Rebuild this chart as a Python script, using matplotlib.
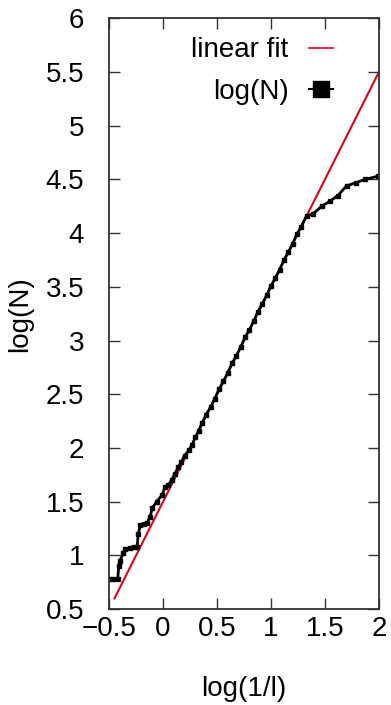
import matplotlib
matplotlib.use('Agg')
import matplotlib.pyplot as plt
from matplotlib.lines import Line2D

plt.rcParams['font.family'] = ['Liberation Sans', 'DejaVu Sans']

# box-counting data: log(1/l) vs log(N)
log_inv_l = [-0.50, -0.46, -0.42, -0.41, -0.40, -0.37, -0.35, -0.31, -0.27, -0.24,
             -0.23, -0.21, -0.18, -0.15, -0.12, -0.10, -0.06, -0.01, 0.02, 0.05,
             0.08, 0.11, 0.14, 0.17, 0.20, 0.24, 0.27, 0.30, 0.33, 0.36,
             0.40, 0.44, 0.48, 0.52, 0.56, 0.60, 0.64, 0.68, 0.72, 0.76,
             0.80, 0.84, 0.88, 0.92, 0.96, 1.00, 1.04, 1.08, 1.12, 1.16,
             1.20, 1.24, 1.28, 1.33, 1.39, 1.47, 1.55, 1.62, 1.70, 1.79,
             1.87, 1.99]
log_N = [0.78, 0.78, 0.78, 0.90, 0.95, 1.02, 1.06, 1.07, 1.08, 1.08,
         1.20, 1.28, 1.29, 1.30, 1.36, 1.44, 1.50, 1.56, 1.64, 1.66,
         1.70, 1.76, 1.82, 1.87, 1.93, 1.98, 2.03, 2.10, 2.16, 2.23,
         2.31, 2.38, 2.46, 2.55, 2.62, 2.70, 2.79, 2.86, 2.94, 3.03,
         3.10, 3.18, 3.27, 3.34, 3.42, 3.51, 3.58, 3.66, 3.75, 3.82,
         3.90, 3.99, 4.06, 4.16, 4.18, 4.25, 4.30, 4.35, 4.44, 4.47,
         4.50, 4.53]

fit_x = [-0.45, 2.0]
fit_y = [0.6, 5.5]

fig = plt.figure(figsize=(3.91, 7.05), dpi=100)
ax = fig.add_axes([0.279, 0.136, 0.69, 0.838])

ax.plot(fit_x, fit_y, color='#e3001b', lw=1.5)
ax.plot(log_inv_l, log_N, color='black', lw=2, marker='s', ms=2.5)

ax.set_xlim(-0.5, 2)
ax.set_ylim(0.5, 6)
ax.set_xticks([-0.5, 0, 0.5, 1, 1.5, 2])
ax.set_xticklabels(['\u22120.5', '0', '0.5', '1', '1.5', '2'])
ax.set_yticks([0.5, 1, 1.5, 2, 2.5, 3, 3.5, 4, 4.5, 5, 5.5, 6])
ax.set_yticklabels(['0.5', '1', '1.5', '2', '2.5', '3', '3.5', '4', '4.5', '5', '5.5', '6'])
ax.tick_params(direction='in', length=8, width=1, top=True, right=True,
               labelsize=20, color='#333333')
ax.tick_params(axis='x', pad=5)
ax.tick_params(axis='y', pad=18)
for s in ax.spines.values():
    s.set_linewidth(1.3)
    s.set_color('#333333')

ax.set_xlabel('log(1/l)', fontsize=20)
ax.set_ylabel('log(N)', fontsize=20)
ax.xaxis.set_label_coords(0.5, -0.113)
ax.yaxis.set_label_coords(-0.28, 0.5)

handles = [Line2D([], [], color='#e3001b', lw=1.2),
           Line2D([], [], color='black', lw=1.5, marker='s', ms=12)]
ax.legend(handles, ['linear fit', 'log(N)'], loc='upper right',
          bbox_to_anchor=(0.83, 0.968), frameon=False, markerfirst=False,
          fontsize=20, handlelength=0.85, handletextpad=0.75,
          labelspacing=0.55, borderpad=0, borderaxespad=0)

fig.savefig('out.png', dpi=100)
